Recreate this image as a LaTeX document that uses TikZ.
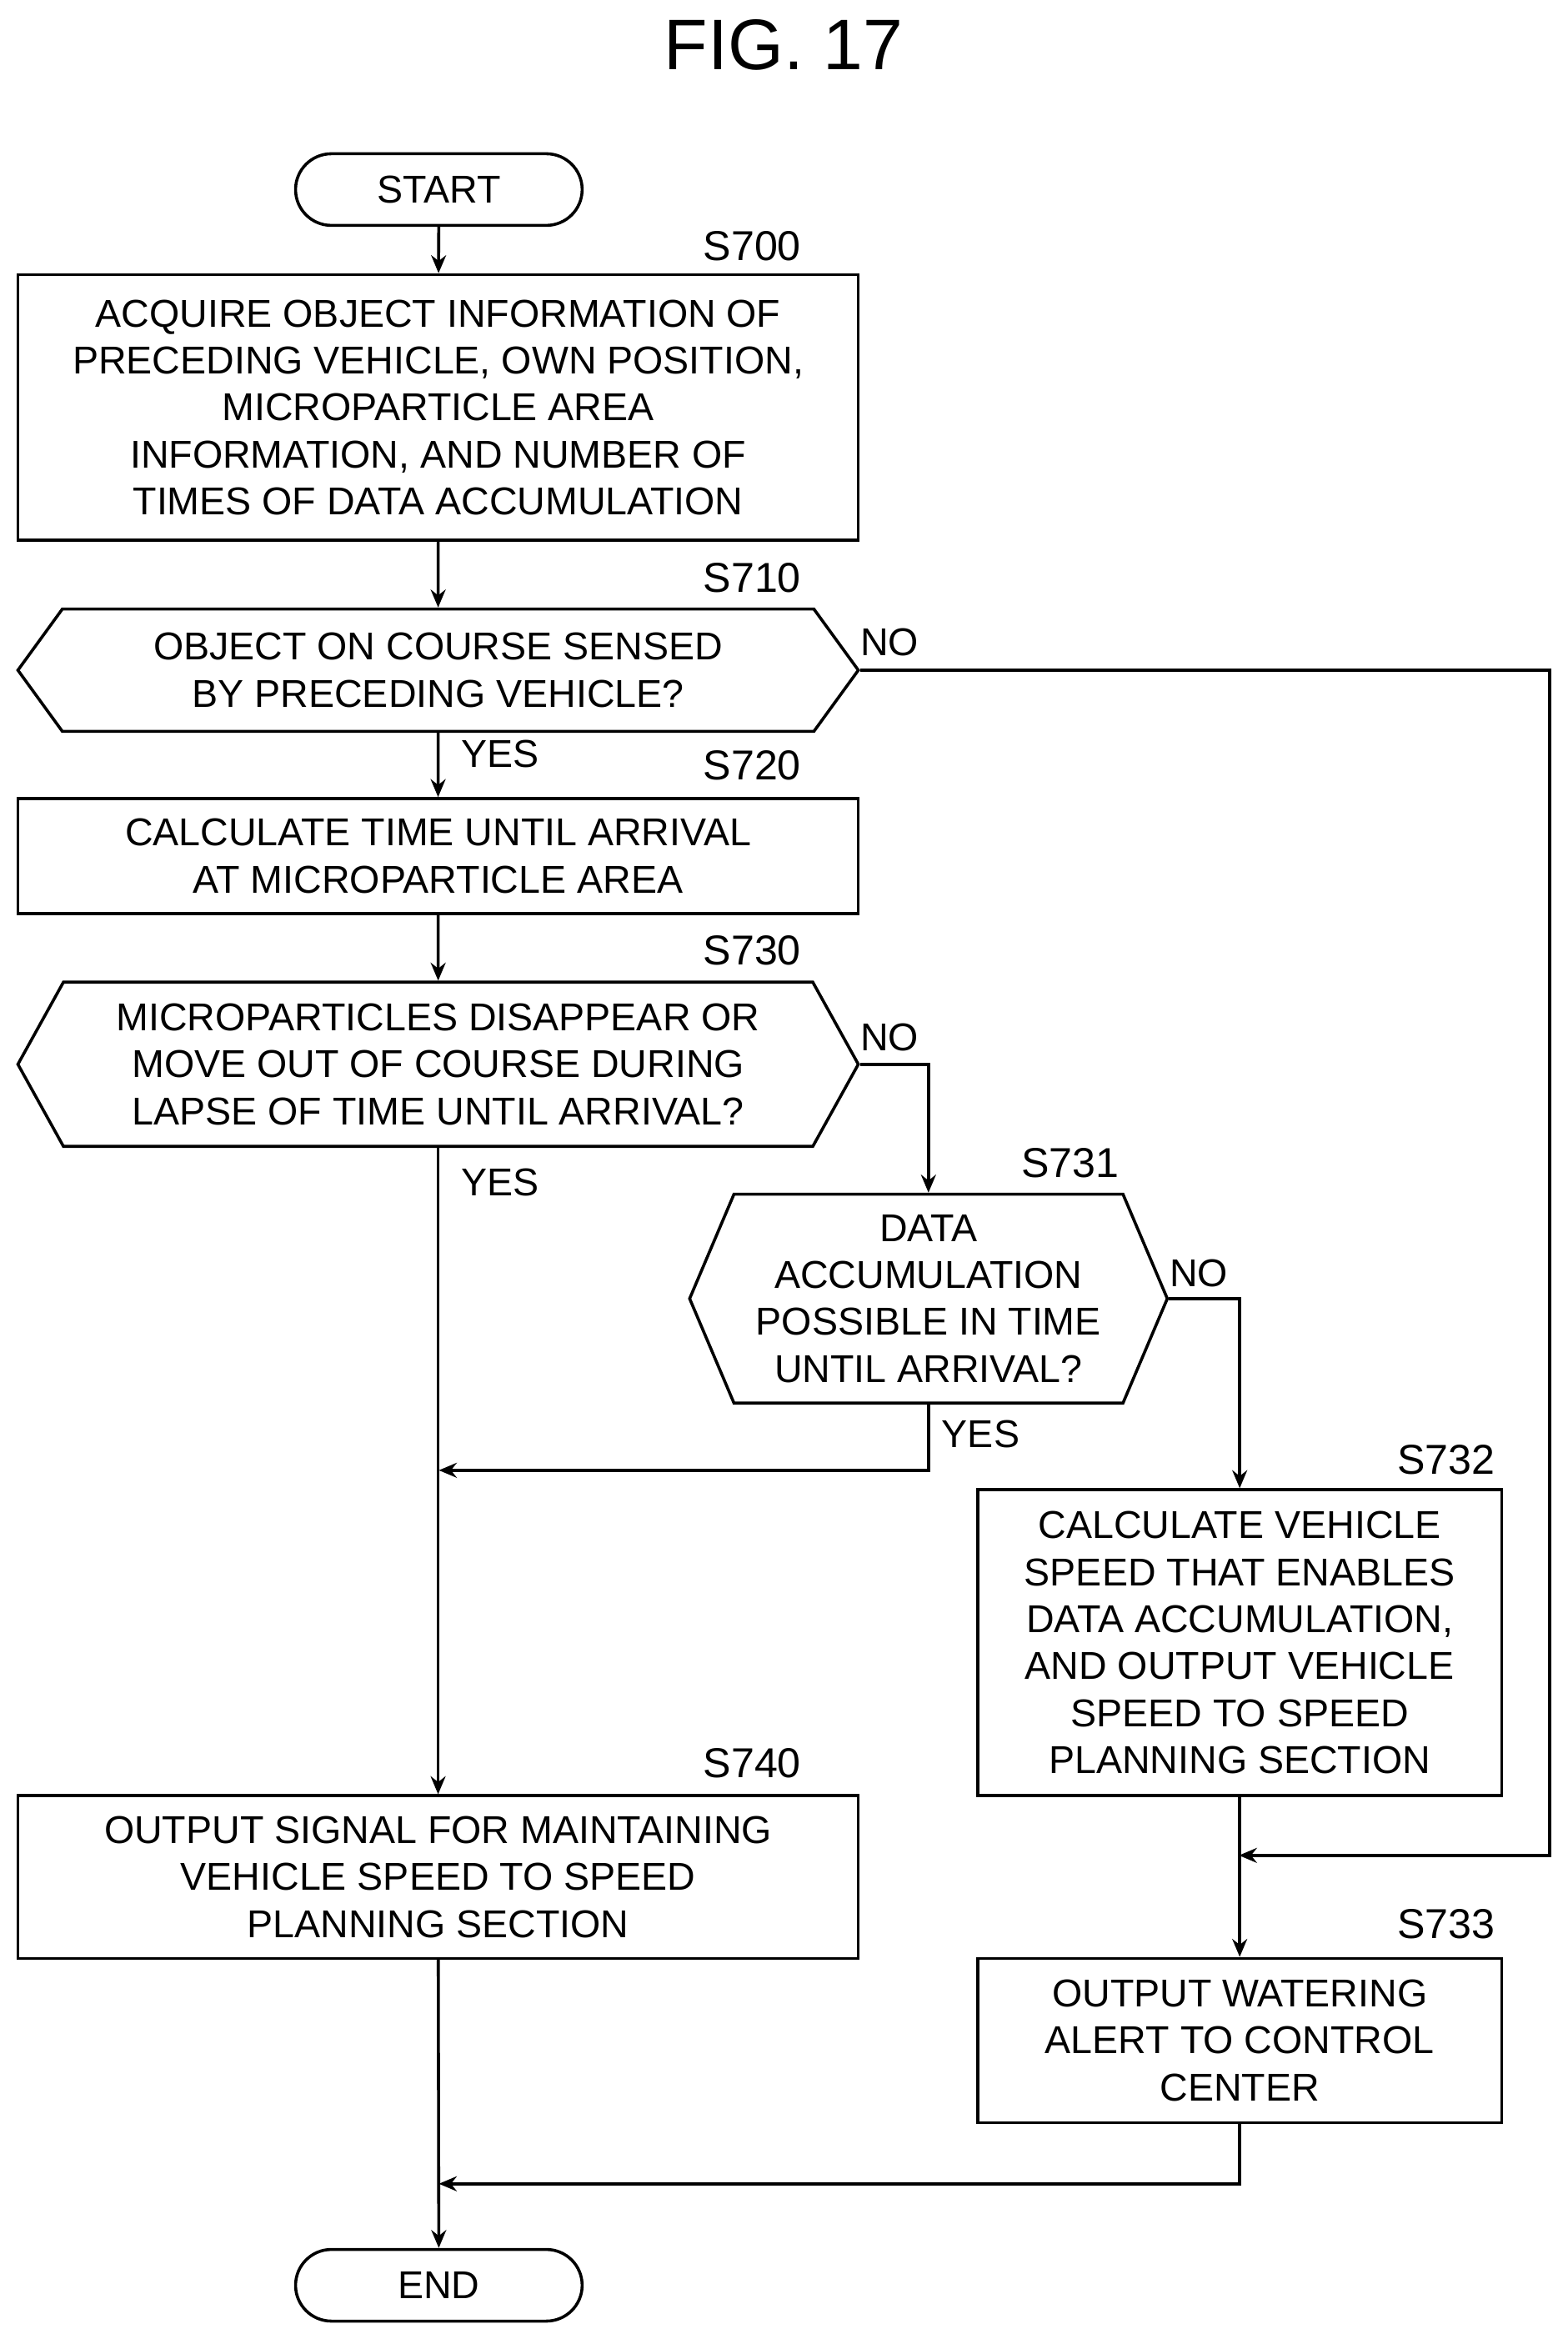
\documentclass[tikz,border=0pt]{standalone}
\usepackage{fontspec}
\setmainfont{Liberation Sans}
\usetikzlibrary{positioning,shapes.symbols,arrows.meta}

\tikzset{
  txt/.style={font=\fontsize{13}{15.75}\selectfont, align=center, inner sep=0pt},
  box/.style={txt, draw, line width=1pt, minimum width=281.5pt, inner sep=0pt},
  sbox/.style={box, minimum width=175.5pt},
  term/.style={txt, draw, line width=1pt, rounded corners=12pt, minimum width=96pt, minimum height=24pt},
  hex/.style={txt, draw, line width=1pt, signal, signal to=west and east, inner sep=0pt},
  stp/.style={font=\fontsize{14}{16}\selectfont, anchor=east, inner sep=0pt},
  lbl/.style={font=\fontsize{13}{15}\selectfont, inner sep=0pt},
  line/.style={line width=1pt},
  arr/.style={line, -{Stealth[length=6pt,width=5pt]}}
}

\begin{document}
\begin{tikzpicture}[x=0.5pt, y=-0.5pt]
  \useasboundingbox (0,0) rectangle (1050,1567);
  \node[font=\fontsize{24}{28}\selectfont] (title) at (525,30) {FIG. 17};

  \node[term] (start) at (294,127) {START};
  \node[stp] at (537,165) {S700};
  \node[box, minimum height=89pt] (s700) at (293.5,273) {ACQUIRE OBJECT INFORMATION OF\\PRECEDING VEHICLE, OWN POSITION,\\MICROPARTICLE AREA\\INFORMATION, AND NUMBER OF\\TIMES OF DATA ACCUMULATION};
  \node[stp] at (537,387) {S710};
  \node[hex, minimum width=281.5pt, minimum height=41pt, signal pointer angle=108] (s710) at (293.5,449) {OBJECT ON COURSE SENSED\\BY PRECEDING VEHICLE?};
  \node[lbl] at (335,505) {YES};
  \node[stp] at (537,513) {S720};
  \node[box, minimum height=38.5pt] (s720) at (293.5,573.5) {CALCULATE TIME UNTIL ARRIVAL\\AT MICROPARTICLE AREA};
  \node[stp] at (537,637) {S730};
  \node[hex, minimum width=281.5pt, minimum height=55pt, signal pointer angle=122] (s730) at (293.5,713) {MICROPARTICLES DISAPPEAR OR\\MOVE OUT OF COURSE DURING\\LAPSE OF TIME UNTIL ARRIVAL?};
  \node[lbl] at (596,695) {NO};
  \node[lbl] at (335,792) {YES};
  \node[stp] at (750,779) {S731};
  \node[hex, minimum width=160pt, minimum height=70pt, signal pointer angle=134] (s731) at (622,870) {DATA\\ACCUMULATION\\POSSIBLE IN TIME\\UNTIL ARRIVAL?};
  \node[lbl] at (803,853) {NO};
  \node[lbl] at (657,961) {YES};
  \node[stp] at (1002,978) {S732};
  \node[sbox, minimum height=102.5pt] (s732) at (830.5,1100.5) {CALCULATE VEHICLE\\SPEED THAT ENABLES\\DATA ACCUMULATION,\\AND OUTPUT VEHICLE\\SPEED TO SPEED\\PLANNING SECTION};
  \node[lbl] at (596,430) {NO};
  \node[stp] at (537,1181) {S740};
  \node[box, minimum height=54.5pt] (s740) at (293.5,1257.5) {OUTPUT SIGNAL FOR MAINTAINING\\VEHICLE SPEED TO SPEED\\PLANNING SECTION};
  \node[stp] at (1002,1289) {S733};
  \node[sbox, minimum height=55pt] (s733) at (830.5,1367) {OUTPUT WATERING\\ALERT TO CONTROL\\CENTER};
  \node[term] (end) at (294,1531) {END};

  \coordinate (j1) at (294,985);
  \coordinate (j2) at (830,1243);
  \coordinate (j3) at (294,1463);

  \draw[arr] (start) -- (s700);
  \draw[arr] (s700) -- (s710);
  \draw[arr] (s710) -- (s720);
  \draw[arr] (s720) -- (s730);
  \draw[arr] (s730.south) -- (s740.north);
  \draw[arr] (s730.east) -| (s731.north);
  \draw[arr] (s731.east) -| (s732.north);
  \draw[arr] (s731.south) |- (j1);
  \draw[arr] (s710.east) -- (1038,449) |- (j2);
  \draw[arr] (s732) -- (s733);
  \draw[arr] (s733.south) |- (j3);
  \draw[arr] (s740) -- (end);
\end{tikzpicture}
\end{document}
